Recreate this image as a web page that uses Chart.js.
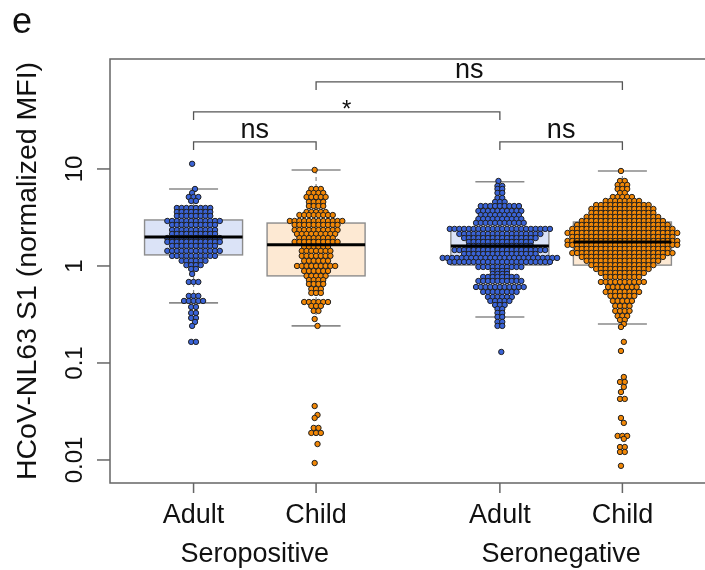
<!DOCTYPE html>
<html>
<head>
<meta charset="utf-8">
<script src="https://cdn.jsdelivr.net/npm/chart.js@4.4.1/dist/chart.umd.min.js"></script>
<style>
  html, body { margin: 0; padding: 0; background: #fff; }
  #cadre { width: 705px; height: 570px; position: relative; }
</style>
</head>
<body>
<div id="cadre"><canvas id="graphique"></canvas></div>
<script>
// Groupes et positions sur l'axe x (comme at = c(1, 2, 3.5, 4.5) dans R)
const categories = ["Adult", "Child", "Adult", "Child"];
const statuts = ["Seropositive", "Seronegative"];
const positions = [1, 2, 3.5, 4.5];

// Graduations de l'axe y (échelle log)
const ticksY = [0.01, 0.1, 1, 10];
const ticksYLabels = ["0.01", "0.1", "1", "10"];

// Valeurs : niveau de chaque rangée du beeswarm et nombre de points dans la rangée
const spAdultNiveaux = [11.3, 6.22, 5.66, 5.14, 4.68, 3.96, 3.60, 3.28, 2.91, 2.65, 2.35, 2.14, 1.94, 1.77, 1.61, 1.43, 1.27, 1.13, 1.02, 0.931, 0.827, 0.684, 0.491, 0.436, 0.378, 0.328, 0.291, 0.265, 0.241, 0.165];
const spAdultNombres = [1, 1, 1, 3, 2, 8, 8, 8, 12, 10, 10, 10, 12, 12, 10, 12, 10, 6, 4, 2, 1, 3, 3, 5, 2, 2, 2, 1, 1, 2];

const spChildNiveaux = [9.77, 6.22, 5.66, 5.14, 4.57, 4.15, 3.60, 3.35, 2.91, 2.65, 2.35, 2.14, 1.94, 1.77, 1.57, 1.43, 1.27, 1.13, 1.00, 0.888, 0.789, 0.717, 0.652, 0.579, 0.527, 0.425, 0.387, 0.344, 0.284, 0.241, 0.0360, 0.0291, 0.0271, 0.0214, 0.0190, 0.0146, 0.0093];
const spChildNombres = [1, 3, 4, 5, 4, 4, 5, 8, 12, 10, 10, 9, 8, 10, 6, 7, 7, 6, 9, 6, 5, 4, 4, 3, 3, 6, 3, 2, 1, 1, 1, 1, 1, 2, 3, 1, 1];

const snAdultNiveaux = [7.52, 6.68, 6.22, 5.66, 5.02, 4.57, 4.15, 3.69, 3.35, 3.05, 2.78, 2.41, 2.14, 1.94, 1.77, 1.61, 1.46, 1.33, 1.21, 1.10, 0.977, 0.888, 0.827, 0.770, 0.700, 0.607, 0.540, 0.479, 0.436, 0.396, 0.360, 0.328, 0.298, 0.265, 0.241, 0.130];
const snAdultNombres = [1, 2, 2, 2, 2, 3, 9, 10, 9, 10, 11, 22, 18, 16, 14, 14, 20, 16, 25, 22, 10, 4, 4, 8, 10, 11, 8, 6, 5, 3, 2, 2, 2, 2, 2, 1];

const snChildNiveaux = [9.53, 7.52, 6.84, 6.22, 5.66, 5.14, 4.68, 4.25, 3.87, 3.52, 3.20, 2.91, 2.65, 2.41, 2.19, 1.99, 1.81, 1.65, 1.50, 1.36, 1.24, 1.13, 1.02, 0.931, 0.847, 0.770, 0.684, 0.607, 0.540, 0.491, 0.436, 0.387, 0.344, 0.305, 0.278, 0.252, 0.235, 0.165, 0.133, 0.0717, 0.0637, 0.0566, 0.0502, 0.0426, 0.0271, 0.0241, 0.0177, 0.0165, 0.0136, 0.0121, 0.0087];
const snChildNombres = [1, 2, 3, 3, 2, 5, 8, 12, 14, 14, 16, 18, 20, 22, 24, 22, 24, 24, 20, 22, 18, 16, 14, 12, 10, 8, 10, 7, 8, 6, 5, 4, 4, 3, 2, 1, 1, 1, 1, 1, 2, 1, 1, 2, 1, 1, 3, 1, 2, 2, 1];

// Boîtes à moustaches
const moustacheHaute = [6.22, 9.77, 7.37, 9.53];
const quartile3 = [2.98, 2.77, 2.35, 2.84];
const mediane = [1.99, 1.65, 1.61, 1.77];
const quartile1 = [1.30, 0.79, 1.02, 1.02];
const moustacheBasse = [0.416, 0.241, 0.298, 0.252];

// Comparaisons (niveau = hauteur du crochet, en unités de l'axe y)
const comparaisonsDe = [0, 2, 0, 1];
const comparaisonsA = [1, 3, 2, 3];
const comparaisonsNiveau = [19.0, 19.0, 38.7, 79];
const comparaisonsTexte = ["ns", "ns", "*", "ns"];

const couleursPoints = ["#3a63d6", "#f28705", "#3a63d6", "#f28705"];
const couleursBoites = ["#dbe3f7", "#fde9d3", "#dbe3f7", "#fde9d3"];

const POLICE = "'Liberation Sans', Arial, sans-serif";
const PAS_PX = 4.8; // écart entre deux points d'une rangée

function construirePoints(niveaux, nombres, centre, pas) {
    /**
     * Place les points d'un groupe en rangées centrées (façon beeswarm "center")
     */
    const points = [];
    niveaux.forEach((v, r) => {
        const n = nombres[r];
        const zigzag = n === 1 ? (r % 2 === 0 ? -0.3 : 0.3) * pas : 0;
        for (let i = 0; i < n; i++) {
            points.push({ x: centre + (i - (n - 1) / 2) * pas + zigzag, y: v });
        }
    });
    return points;
}

const dessinBoites = {
    id: 'dessinBoites',
    beforeDatasetsDraw(chart) {
        const ctx = chart.ctx, sx = chart.scales.x, sy = chart.scales.y;
        ctx.save();
        positions.forEach((p, i) => {
            const xg = sx.getPixelForValue(p - 0.4), xd = sx.getPixelForValue(p + 0.4);
            const xc = sx.getPixelForValue(p);
            const cg = sx.getPixelForValue(p - 0.2), cd = sx.getPixelForValue(p + 0.2);
            const y3 = sy.getPixelForValue(quartile3[i]), y1 = sy.getPixelForValue(quartile1[i]);
            const yh = sy.getPixelForValue(moustacheHaute[i]), yb = sy.getPixelForValue(moustacheBasse[i]);
            // moustaches pointillées
            ctx.strokeStyle = '#8a8a8a';
            ctx.lineWidth = 1.2;
            ctx.setLineDash([4, 3]);
            ctx.beginPath();
            ctx.moveTo(xc, y3); ctx.lineTo(xc, yh);
            ctx.moveTo(xc, y1); ctx.lineTo(xc, yb);
            ctx.stroke();
            ctx.setLineDash([]);
            ctx.lineWidth = 1.6;
            ctx.beginPath();
            ctx.moveTo(cg, yh); ctx.lineTo(cd, yh);
            ctx.moveTo(cg, yb); ctx.lineTo(cd, yb);
            ctx.stroke();
            // boîte
            ctx.fillStyle = couleursBoites[i];
            ctx.fillRect(xg, y3, xd - xg, y1 - y3);
            ctx.strokeStyle = '#8c8c8c';
            ctx.lineWidth = 1.4;
            ctx.strokeRect(xg, y3, xd - xg, y1 - y3);
        });
        ctx.restore();
    },
    afterDatasetsDraw(chart) {
        const ctx = chart.ctx, sx = chart.scales.x, sy = chart.scales.y;
        ctx.save();
        ctx.strokeStyle = '#000';
        ctx.lineWidth = 3;
        positions.forEach((p, i) => {
            const ym = sy.getPixelForValue(mediane[i]);
            ctx.beginPath();
            ctx.moveTo(sx.getPixelForValue(p - 0.4), ym);
            ctx.lineTo(sx.getPixelForValue(p + 0.4), ym);
            ctx.stroke();
        });
        ctx.restore();
    },
    afterDraw(chart) {
        const ctx = chart.ctx, sx = chart.scales.x, sy = chart.scales.y, a = chart.chartArea;
        ctx.save();
        // cadre : haut, gauche, bas
        ctx.strokeStyle = '#666';
        ctx.lineWidth = 1.5;
        ctx.beginPath();
        ctx.moveTo(chart.width, a.top); ctx.lineTo(a.left, a.top);
        ctx.lineTo(a.left, a.bottom); ctx.lineTo(chart.width, a.bottom);
        ctx.stroke();
        // graduations y
        ctx.fillStyle = '#111';
        ctx.font = '24px ' + POLICE;
        ctx.textAlign = 'center';
        ctx.textBaseline = 'alphabetic';
        ticksY.forEach((t, i) => {
            const y = sy.getPixelForValue(t);
            ctx.beginPath();
            ctx.moveTo(a.left - 13, y); ctx.lineTo(a.left, y);
            ctx.stroke();
            ctx.save();
            ctx.translate(a.left - 28, y);
            ctx.rotate(-Math.PI / 2);
            ctx.fillText(ticksYLabels[i], 0, 0);
            ctx.restore();
        });
        // titre y
        ctx.save();
        ctx.font = '28.5px ' + POLICE;
        ctx.translate(36, (a.top + a.bottom) / 2);
        ctx.rotate(-Math.PI / 2);
        ctx.fillText('HCoV-NL63 S1 (normalized MFI)', 0, 0);
        ctx.restore();
        // graduations x
        ctx.font = '27px ' + POLICE;
        positions.forEach((p, i) => {
            const x = sx.getPixelForValue(p);
            ctx.beginPath();
            ctx.moveTo(x, a.bottom); ctx.lineTo(x, a.bottom + 10);
            ctx.stroke();
            ctx.fillText(categories[i], x, a.bottom + 40);
        });
        statuts.forEach((s, k) => {
            const x = (sx.getPixelForValue(positions[2 * k]) + sx.getPixelForValue(positions[2 * k + 1])) / 2;
            ctx.fillText(s, x, a.bottom + 79);
        });
        // crochets de comparaison
        ctx.strokeStyle = '#555';
        ctx.lineWidth = 1.3;
        comparaisonsDe.forEach((d, i) => {
            const x1 = sx.getPixelForValue(positions[d]), x2 = sx.getPixelForValue(positions[comparaisonsA[i]]);
            const y = sy.getPixelForValue(comparaisonsNiveau[i]);
            ctx.beginPath();
            ctx.moveTo(x1, y + 8); ctx.lineTo(x1, y); ctx.lineTo(x2, y); ctx.lineTo(x2, y + 8);
            ctx.stroke();
            if (comparaisonsTexte[i] === '*') {
                ctx.font = '24px ' + POLICE;
                ctx.fillText('*', (x1 + x2) / 2, y + 5);
            } else {
                ctx.font = '27px ' + POLICE;
                ctx.fillText(comparaisonsTexte[i], (x1 + x2) / 2, y - 4);
            }
        });
        // lettre du panneau
        ctx.font = '36px ' + POLICE;
        ctx.textAlign = 'left';
        ctx.fillText('e', 12, 33);
        ctx.restore();
    }
};

const niveauxGroupes = [spAdultNiveaux, spChildNiveaux, snAdultNiveaux, snChildNiveaux];
const nombresGroupes = [spAdultNombres, spChildNombres, snAdultNombres, snChildNombres];

const graphique = new Chart(document.getElementById('graphique'), {
    type: 'scatter',
    data: {
        datasets: positions.map((p, i) => ({
            data: [],
            backgroundColor: couleursPoints[i],
            borderColor: '#202020',
            borderWidth: 1,
            pointRadius: 2.7,
            pointHoverRadius: 2.7,
        })),
    },
    options: {
        responsive: true,
        maintainAspectRatio: false,
        animation: false,
        layout: { padding: { left: 110, top: 59, right: 0, bottom: 87 } },
        scales: {
            x: { type: 'linear', min: 0.318, max: 5.144, display: false },
            y: { type: 'logarithmic', min: 0.00579, max: 136, display: false },
        },
        plugins: {
            legend: { display: false },
            tooltip: { enabled: false },
        },
    },
    plugins: [dessinBoites],
});

// écart entre points en unités de l'axe x, calculé à partir de l'échelle
const sx = graphique.scales.x;
const pas = sx.getValueForPixel(sx.getPixelForValue(0) + PAS_PX) - sx.getValueForPixel(sx.getPixelForValue(0));
graphique.data.datasets.forEach((ds, i) => {
    ds.data = construirePoints(niveauxGroupes[i], nombresGroupes[i], positions[i], pas);
});
graphique.update();
</script>
</body>
</html>
